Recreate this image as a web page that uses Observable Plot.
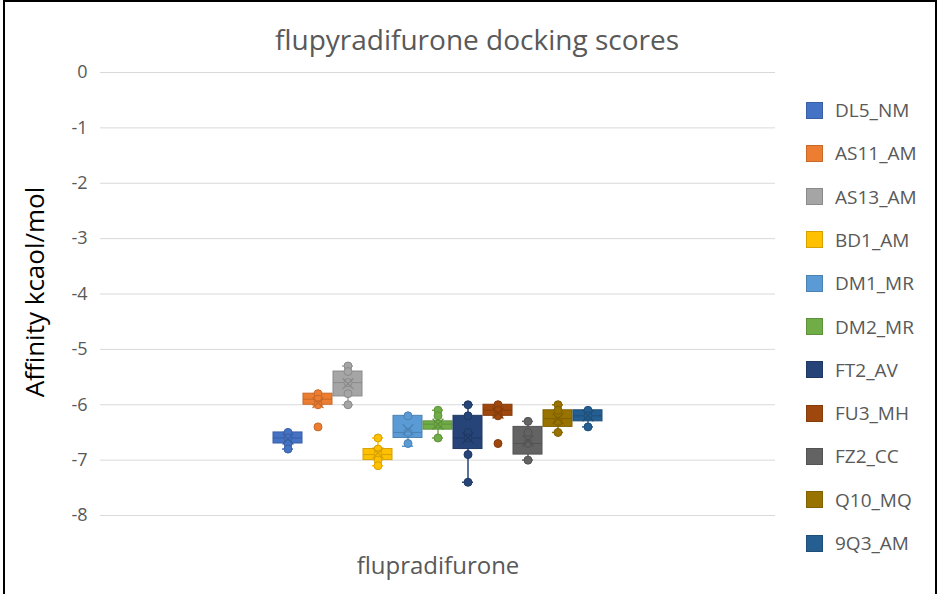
<!DOCTYPE html>
<html>
<head>
<meta charset="utf-8">
<script src="https://cdn.jsdelivr.net/npm/d3@7"></script>
<script src="https://cdn.jsdelivr.net/npm/@observablehq/plot@0.6"></script>
<style>
  body { margin: 0; background: #fff; font-family: "Open Sans", sans-serif; }
  #wrap { position: relative; width: 938px; height: 594px; overflow: hidden; background: #fff; }
  #frame { position: absolute; left: 3px; top: 0; width: 934px; height: 620px; border: 2px solid #000; box-sizing: border-box; pointer-events: none; }
  #title { position: absolute; top: 22px; left: 8px; width: 938px; text-align: center; font-size: 28px; color: #595959; line-height: 34px; }
  #chart { position: absolute; left: 0; top: 50px; }
  #ylabel { position: absolute; left: 34px; top: 292px; transform: translate(-50%, -50%) rotate(-90deg); font-size: 26px; color: #000; white-space: nowrap; }
  .item { position: absolute; left: 806px; height: 22px; display: flex; align-items: center; font-size: 19px; color: #595959; white-space: nowrap; }
  .sw { width: 17px; height: 17px; box-sizing: border-box; margin-right: 12px; }
</style>
</head>
<body>
<div id="wrap">
  <div id="title">flupyradifurone docking scores</div>
  <div id="chart"></div>
  <div id="ylabel">Affinity kcaol/mol</div>
  <div id="legend"></div>
  <div id="frame"></div>
</div>
<script>
const category = "flupradifurone";
const series = ["DL5_NM", "AS11_AM", "AS13_AM", "BD1_AM", "DM1_MR", "DM2_MR", "FT2_AV", "FU3_MH", "FZ2_CC", "Q10_MQ", "9Q3_AM"];
const colors = ["#4472C4", "#ED7D31", "#A5A5A5", "#FFC000", "#5B9BD5", "#70AD47", "#264478", "#9E480E", "#636363", "#997300", "#255E91"];

const lows    = [-6.8, -6.0, -6.0, -7.1, -6.75, -6.6, -7.4, -6.2, -7.0, -6.5, -6.4];
const q1s     = [-6.7, -6.0, -5.85, -7.0, -6.6, -6.45, -6.8, -6.2, -6.9, -6.4, -6.3];
const medians = [-6.6, -5.9, -5.6, -6.9, -6.5, -6.35, -6.6, -6.1, -6.7, -6.25, -6.2];
const q3s     = [-6.5, -5.8, -5.4, -6.8, -6.2, -6.3, -6.2, -6.0, -6.4, -6.1, -6.1];
const highs   = [-6.5, -5.8, -5.3, -6.6, -6.2, -6.1, -6.0, -6.0, -6.3, -6.0, -6.1];
const means   = [-6.62, -5.96, -5.62, -6.87, -6.45, -6.35, -6.6, -6.15, -6.65, -6.25, -6.2];

const innerPoints = [
  [-6.5, -6.6, -6.7, -6.8],
  [-5.8, -5.9, -6.0],
  [-5.3, -5.4, -5.6, -5.8, -6.0],
  [-6.6, -6.8, -6.9, -7.0, -7.1],
  [-6.2, -6.5, -6.7],
  [-6.1, -6.2, -6.35, -6.6],
  [-6.0, -6.2, -6.5, -6.6, -6.9, -7.4],
  [-6.0, -6.1, -6.2],
  [-6.3, -6.5, -6.7, -7.0],
  [-6.0, -6.1, -6.3, -6.5],
  [-6.1, -6.2, -6.4]
];
const outlierSeries = ["AS11_AM", "FU3_MH"];
const outlierValues = [-6.4, -6.7];

const yTicks = [0, -1, -2, -3, -4, -5, -6, -7, -8];
const yTickLabels = ["0", "-1", "-2", "-3", "-4", "-5", "-6", "-7", "-8"];

const colorOf = Object.fromEntries(series.map((s, i) => [s, colors[i]]));
const edgeOf = s => d3.color(colorOf[s]).darker(0.5).formatHex();

const stats = series.map((s, i) => ({s, lo: lows[i], q1: q1s[i], med: medians[i], q3: q3s[i], hi: highs[i], mean: means[i]}));
const points = series.flatMap((s, i) => innerPoints[i].map(v => ({s, v})));
const outliers = outlierSeries.map((s, i) => ({s, v: outlierValues[i]}));

const fill = d => colorOf[d.s];
const edge = d => edgeOf(d.s);

const chart = Plot.plot({
  width: 790,
  height: 544,
  marginLeft: 100,
  marginRight: 15,
  marginTop: 22,
  marginBottom: 79,
  x: {domain: series, paddingInner: 0.05, paddingOuter: 5.55, axis: null},
  y: {domain: [-8, 0], axis: null},
  style: {fontFamily: "Open Sans, sans-serif", background: "transparent", color: "#595959"},
  marks: [
    Plot.gridY(yTicks, {stroke: "#d9d9d9", strokeOpacity: 1}),
    Plot.axisY(yTicks, {tickSize: 0, tickPadding: 13, fontSize: 18, fill: "#595959", label: null,
      tickFormat: d => yTickLabels[yTicks.indexOf(d)]}),
    Plot.ruleX(stats, {x: "s", y1: "lo", y2: "hi", stroke: fill, strokeWidth: 1.5}),
    Plot.tickY(stats, {x: "s", y: "lo", stroke: fill, strokeWidth: 1.5, insetLeft: 9, insetRight: 9}),
    Plot.tickY(stats, {x: "s", y: "hi", stroke: fill, strokeWidth: 1.5, insetLeft: 9, insetRight: 9}),
    Plot.barY(stats, {x: "s", y1: "q1", y2: "q3", fill: fill, stroke: edge, strokeWidth: 1}),
    Plot.tickY(stats, {x: "s", y: "med", stroke: edge, strokeWidth: 1}),
    Plot.dot(points, {x: "s", y: "v", r: 4, fill: fill, stroke: edge, strokeWidth: 1}),
    Plot.dot(stats, {x: "s", y: "mean", symbol: "times", r: 5, stroke: edge, strokeWidth: 1.3}),
    Plot.dot(outliers, {x: "s", y: "v", r: 4, fill: fill, stroke: edge, strokeWidth: 1}),
    Plot.text([category], {text: d => d, frameAnchor: "bottom", dy: 58, fontSize: 24, fill: "#595959"})
  ]
});
document.getElementById("chart").appendChild(chart);

const legend = document.getElementById("legend");
series.forEach((s, i) => {
  const item = document.createElement("div");
  item.className = "item";
  item.style.top = (110 + i * 43.3 - 11) + "px";
  const sw = document.createElement("div");
  sw.className = "sw";
  sw.style.background = colors[i];
  sw.style.border = "1px solid " + edgeOf(s);
  item.appendChild(sw);
  const t = document.createElement("span");
  t.textContent = s;
  item.appendChild(t);
  legend.appendChild(item);
});
</script>
</body>
</html>
